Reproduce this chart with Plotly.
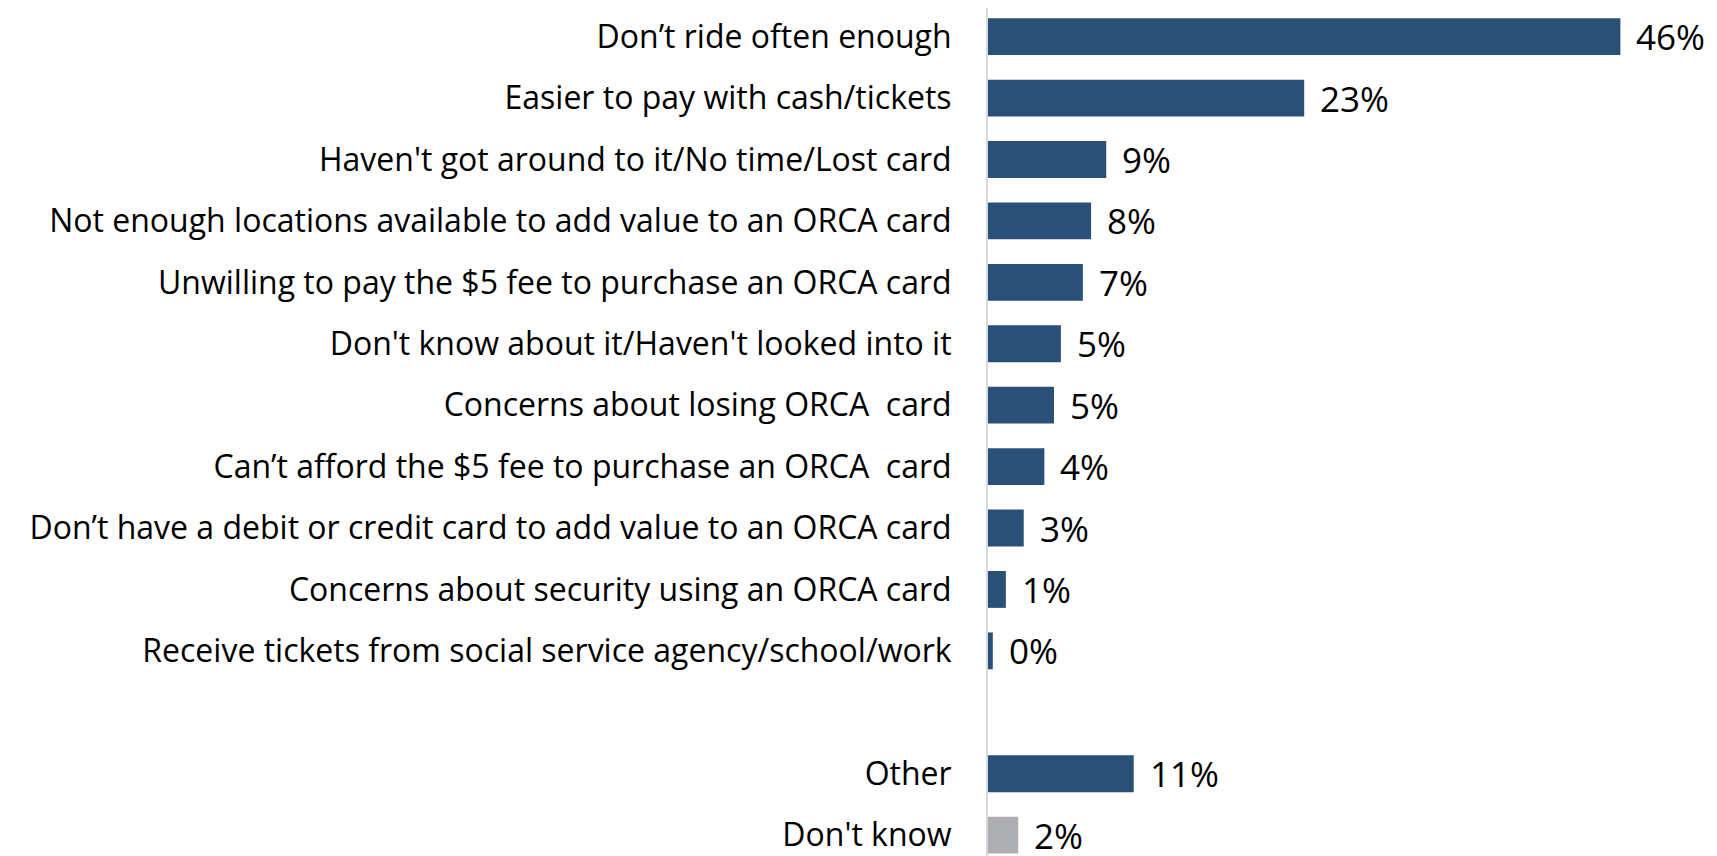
import plotly.graph_objects as go

categories = [
    "Don\u2019t ride often enough",
    "Easier to pay with cash/tickets",
    "Haven't got around to it/No time/Lost card",
    "Not enough locations available to add value to an ORCA card",
    "Unwilling to pay the $5 fee to purchase an ORCA card",
    "Don't know about it/Haven't looked into it",
    "Concerns about losing ORCA  card",
    "Can\u2019t afford the $5 fee to purchase an ORCA  card",
    "Don\u2019t have a debit or credit card to add value to an ORCA card",
    "Concerns about security using an ORCA card",
    "Receive tickets from social service agency/school/work",
    "Other",
    "Don't know",
]
values = [46, 23, 8.6, 7.5, 6.9, 5.3, 4.8, 4.1, 2.6, 1.3, 0.35, 10.6, 2.2]
labels = ["46%", "23%", "9%", "8%", "7%", "5%", "5%", "4%", "3%", "1%", "0%", "11%", "2%"]
positions = [0, 1, 2, 3, 4, 5, 6, 7, 8, 9, 10, 12, 13]
colors = ["#2B5078"] * 12 + ["#AEAFB3"]

FONT = "Open Sans, sans-serif"

fig = go.Figure()
fig.add_trace(go.Bar(
    x=values, y=positions, orientation="h",
    marker=dict(color=colors, line=dict(width=0)),
    width=0.6, hoverinfo="skip",
))
for v, p, t in zip(values, positions, labels):
    fig.add_annotation(x=v, y=p, text=t, showarrow=False, xanchor="left",
                       yanchor="middle", xshift=14,
                       font=dict(family=FONT, size=35, color="#000000"))

fig.update_layout(
    width=1709, height=848,
    margin=dict(l=980, r=10, t=0, b=0, autoexpand=False),
    plot_bgcolor="white", paper_bgcolor="white",
    showlegend=False,
    font=dict(family=FONT, size=32, color="#000000"),
)
fig.update_xaxes(range=[0, 52.3], visible=False, showgrid=False, zeroline=False,
                 automargin=False)
fig.update_yaxes(
    range=[13.34, -0.467], tickmode="array", tickvals=positions, ticktext=categories,
    showgrid=False, zeroline=False, showline=True, linecolor="#D9D9D9", linewidth=2,
    ticks="", ticklabelstandoff=28, automargin=False,
    tickfont=dict(family=FONT, size=32, color="#000000"),
)
fig.write_html("out.html")
